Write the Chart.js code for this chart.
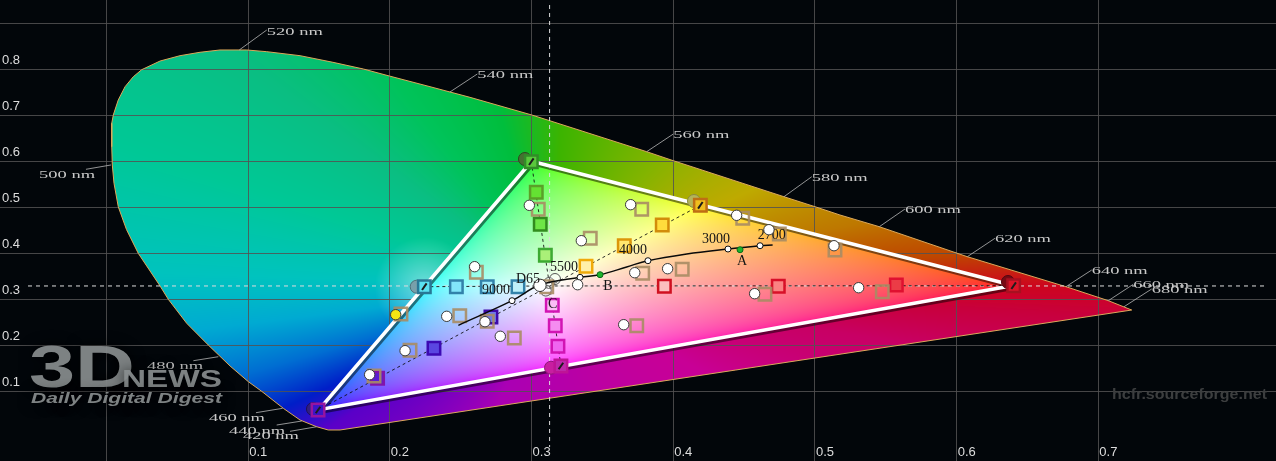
<!DOCTYPE html>
<html>
<head>
<meta charset="utf-8">
<title>CIE diagram</title>
<style>
  html, body { margin: 0; padding: 0; background: #02060a; }
  #wrap { width: 1276px; height: 461px; }
  canvas { display: block; }
</style>
<script src="https://cdn.jsdelivr.net/npm/chart.js@4"></script>
</head>
<body>
<div id="wrap"><canvas id="cie" width="1276" height="461"></canvas></div>
<script>
/* ── Axis ticks ── */
const xTickValues = [0, 0.1, 0.2, 0.3, 0.4, 0.5, 0.6, 0.7];
const xTickLabels = ['', '0.1', '0.2', '0.3', '0.4', '0.5', '0.6', '0.7'];
const yTickValues = [0.1, 0.2, 0.3, 0.4, 0.5, 0.6, 0.7, 0.8, 0.9];
const yTickLabels = ['0.1', '0.2', '0.3', '0.4', '0.5', '0.6', '0.7', '0.8', ''];

/* ── Spectral locus ── */
const locus = [
  [0.7235,0.2767],[0.7070,0.2970],[0.6771,0.3274],[0.6075,0.3926],[0.5454,0.4578],[0.5176,0.4833],
  [0.5000,0.5013],[0.4781,0.5230],[0.4000,0.6013],[0.3812,0.6209],[0.3001,0.7007],[0.2565,0.7391],
  [0.2283,0.7622],[0.1996,0.7854],[0.1812,0.8007],[0.1598,0.8152],[0.1366,0.8296],[0.1131,0.8383],
  [0.0989,0.8420],[0.0801,0.8420],[0.0660,0.8370],[0.0519,0.8296],[0.0378,0.8180],[0.0248,0.7991],
  [0.0189,0.7839],[0.0131,0.7622],[0.0083,0.7333],[0.0048,0.7007],[0.0037,0.6826],[0.0037,0.6317],
  [0.0041,0.5920],[0.0053,0.5522],[0.0083,0.5013],[0.0141,0.4517],[0.0224,0.4000],[0.0378,0.3289],
  [0.0436,0.3000],[0.0566,0.2478],[0.0718,0.2007],[0.0872,0.1550],[0.1001,0.1209],[0.1095,0.1000],
  [0.1248,0.0630],[0.1366,0.0376],[0.1483,0.0230],[0.1565,0.0159],[0.1648,0.0159]
];

/* wavelength labels: text, locus point, leader end, text anchor */
const nmLabels = ['520 nm','540 nm','560 nm','580 nm','600 nm','620 nm','640 nm','660 nm','680 nm','500 nm','480 nm','460 nm','440 nm','420 nm'];
const nmStarts = [[0.0937,0.8420],[0.2424,0.7507],[0.3812,0.6209],[0.4781,0.5230],[0.5454,0.4578],[0.6075,0.3926],[0.6771,0.3274],[0.7070,0.2970],[0.7181,0.2839],[0.0032,0.5920],[0.0789,0.1752],[0.1243,0.0630],[0.1378,0.0354],[0.1483,0.0230]];
const nmEnds = [[0.1131,0.8854],[0.2617,0.7898],[0.4000,0.6593],[0.4977,0.5665],[0.5635,0.4963],[0.6270,0.4326],[0.6953,0.3637],[0.7246,0.3326],[0.7376,0.3224],[-0.0145,0.5826],[0.0613,0.1665],[0.1055,0.0535],[0.1201,0.0267],[0.1295,0.0130]];
const nmAnchors = [[0.1131,0.8811],[0.2617,0.7883],[0.4000,0.6578],[0.4977,0.5637],[0.5635,0.4941],[0.6270,0.4311],[0.6953,0.3622],[0.7246,0.3311],[0.7376,0.3202],[-0.0476,0.5702],[0.0286,0.1550],[0.0723,0.0420],[0.0865,0.0143],[0.0963,0.0022]];

/* ── Gamut and white point ── */
const gamut = [[0.64,0.33],[0.30,0.60],[0.15,0.06]];
const whitePoint = [0.3127,0.329];
const crossH = [[-0.0554,0.329],[0.8197,0.329]];
const crossV = [[0.3127,0.9398],[0.3127,-0.0211]];

/* ── Saturation targets, primary first ── */
const redTargets = [[0.6402,0.3296],[0.5574,0.3311],[0.4741,0.3283],[0.3937,0.3283]];
const greenTargets = [[0.2998,0.5991],[0.3033,0.5326],[0.3061,0.4630],[0.3097,0.3957]];
const blueTargets = [[0.1493,0.0593],[0.1913,0.1283],[0.2311,0.1935],[0.2713,0.2615]];
const yellowTargets = [[0.4191,0.5043],[0.3922,0.4615],[0.3654,0.4165],[0.3384,0.3717]];
const cyanTargets = [[0.2243,0.3274],[0.2469,0.3274],[0.2687,0.3274],[0.2904,0.3274]];
const magentaTargets = [[0.3207,0.1550],[0.3186,0.1978],[0.3167,0.2426],[0.3146,0.2870]];

/* ── Measurements ── */
const tanSquares = [
  [0.2610,0.3587],[0.2493,0.2643],[0.2687,0.2522],[0.2878,0.2159],[0.2142,0.1891],[0.1888,0.1333],[0.2078,0.2680],
  [0.3047,0.4957],[0.3414,0.4326],[0.3107,0.3274],[0.3777,0.4957],[0.4490,0.4761],[0.4748,0.4420],[0.5141,0.4072],
  [0.3784,0.3565],[0.4063,0.3652],[0.4647,0.3109],[0.3742,0.2426],[0.5475,0.3165]
];
const whiteDots = [
  [0.2984,0.5043],[0.3351,0.4274],[0.2598,0.3709],[0.2401,0.2630],[0.2671,0.2513],[0.2779,0.2196],[0.2107,0.1883],
  [0.1857,0.1361],[0.3325,0.3317],[0.3699,0.5057],[0.4447,0.4826],[0.4675,0.4513],[0.5134,0.4165],[0.3728,0.3578],
  [0.3960,0.3665],[0.4574,0.3122],[0.3650,0.2448],[0.5308,0.3252]
];
const centerDot = [[0.3059,0.3304]];
const yellowDot = [[0.2041,0.2665]];
const greyRings = [[0.3123,0.3354],[0.3165,0.3441],[0.3100,0.3190]];
const primaryDots = [[0.2953,0.6050],[0.4146,0.5137],[0.6362,0.3376],[0.3137,0.1513],[0.2189,0.3274],[0.1457,0.0615]];

/* ── Black body curve ── */
const planck = [[0.2483,0.2435],[0.2862,0.2970],[0.3059,0.3311],[0.3342,0.3478],[0.3483,0.3535],[0.3671,0.3702],[0.3821,0.3839],[0.4095,0.3985],[0.4386,0.4093],[0.4612,0.4165],[0.4701,0.4180]];
const cctMarks = [[0.2862,0.2970],[0.3342,0.3478],[0.3821,0.3839],[0.4386,0.4093],[0.4612,0.4165]];
const illuminants = [[0.3483,0.3535],[0.4471,0.4078]];
const curveLabels = ['3000','2700','4000','5500','D65','9000','A','B','C'];
const curveLabelPos = [[0.4301,0.4311],[0.4694,0.4398],[0.3716,0.4057],[0.3229,0.3687],[0.2975,0.3441],[0.2749,0.3196],[0.4485,0.3817],[0.3539,0.3274],[0.3149,0.2891]];

const pts = list => list.map(p => ({ x: p[0], y: p[1] }));

// line pieces separated by a gap
function segments(pairs) {
  const out = [];
  pairs.forEach(([a, b]) => out.push({ x: a[0], y: a[1] }, { x: b[0], y: b[1] }, { x: NaN, y: NaN }));
  return out;
}

function lineSet(label, data, color, width, extra) {
  return Object.assign({ label, data, showLine: true, pointRadius: 0, borderColor: color, borderWidth: width, fill: false }, extra);
}

function squareSet(label, list, fills, borders) {
  return { label, data: pts(list), showLine: false, pointStyle: 'rect', pointRadius: 8.8, pointBorderWidth: 2.5, pointBackgroundColor: fills, pointBorderColor: borders };
}

function dotSet(label, list, radius, fill, border) {
  return { label, data: pts(list), showLine: false, pointStyle: 'circle', pointRadius: radius, pointBorderWidth: 1, pointBackgroundColor: fill, pointBorderColor: border };
}

/* ── Colour of the horseshoe ── */
// outside the gamut: colour by direction from the white point, as seen in the picture
const rimStops = [
  [-3,200,0,60],[0,205,5,30],[4.4,190,70,0],[11.5,190,120,0],[25.6,190,170,0],[50,130,180,0],[86,60,180,0],[106,0,190,60],
  [127,0,195,90],[144,10,190,130],[162,0,200,150],[178,0,195,190],[187,0,170,210],[196,0,110,210],[204.5,0,30,200],
  [212.5,90,0,200],[246,170,0,180],[330.8,200,0,150],[351,200,0,100],[357,200,0,60]
];

function rimColor(deg) {
  if (deg > 357) deg -= 360;
  for (let i = 1; i < rimStops.length; i++) {
    const a = rimStops[i - 1], b = rimStops[i];
    if (deg <= b[0]) {
      const t = (deg - a[0]) / (b[0] - a[0]);
      return [a[1] + (b[1] - a[1]) * t, a[2] + (b[2] - a[2]) * t, a[3] + (b[3] - a[3]) * t];
    }
  }
  return [200, 0, 60];
}

function makeRim(chart) {
  const { x: sx, y: sy } = chart.scales;
  const w = chart.width, h = chart.height;
  const off = document.createElement('canvas');
  off.width = w; off.height = h;
  const octx = off.getContext('2d');
  const img = octx.createImageData(w, h);
  const d = img.data;
  const wx = sx.getPixelForValue(whitePoint[0]), wy = sy.getPixelForValue(whitePoint[1]);
  const gx = sx.getPixelForValue(cyanTargets[0][0]), gy = sy.getPixelForValue(cyanTargets[0][1]);
  for (let py = 0; py < h; py++) {
    for (let px = 0; px < w; px++) {
      let deg = Math.atan2(wy - py, px - wx) * 180 / Math.PI;
      if (deg < -3) deg += 360;
      const c = rimColor(deg);
      // soft light spot just outside the cyan corner
      const t = Math.max(0, 1 - Math.hypot(px - gx, py - gy) / 50) * 0.45;
      const i = (py * w + px) * 4;
      d[i] = c[0] + (255 - c[0]) * t; d[i + 1] = c[1] + (255 - c[1]) * t; d[i + 2] = c[2] + (255 - c[2]) * t; d[i + 3] = 255;
    }
  }
  octx.putImageData(img, 0, 0);
  return off;
}

// inside the gamut: real sRGB, brightest channel at full
function makeInner(chart) {
  const { x: sx, y: sy } = chart.scales;
  const w = chart.width, h = chart.height;
  const off = document.createElement('canvas');
  off.width = w; off.height = h;
  const octx = off.getContext('2d');
  const img = octx.createImageData(w, h);
  const d = img.data;
  for (let py = 0; py < h; py++) {
    const y = sy.getValueForPixel(py + 0.5);
    if (y <= 0.001) continue;
    for (let px = 0; px < w; px++) {
      const x = sx.getValueForPixel(px + 0.5);
      const X = x / y, Z = (1 - x - y) / y;
      let r = Math.max(3.2406 * X - 1.5372 - 0.4986 * Z, 0);
      let g = Math.max(-0.9689 * X + 1.8758 + 0.0415 * Z, 0);
      let b = Math.max(0.0557 * X - 0.2040 + 1.0570 * Z, 0);
      const m = Math.max(r, g, b, 1e-6);
      const i = (py * w + px) * 4;
      d[i] = 255 * Math.pow(r / m, 1 / 2.6);
      d[i + 1] = 255 * Math.pow(g / m, 1 / 2.6);
      d[i + 2] = 255 * Math.pow(b / m, 1 / 2.6);
      d[i + 3] = 255;
    }
  }
  octx.putImageData(img, 0, 0);
  return off;
}

function tracePoly(chart, list) {
  const { x: sx, y: sy } = chart.scales;
  const ctx = chart.ctx;
  ctx.beginPath();
  list.forEach((p, i) => {
    const px = sx.getPixelForValue(p[0]), py = sy.getPixelForValue(p[1]);
    if (i === 0) ctx.moveTo(px, py); else ctx.lineTo(px, py);
  });
  ctx.closePath();
}

// text squeezed or stretched to a set width
function fitText(ctx, text, x, y, width, font, color) {
  ctx.save();
  ctx.font = font;
  ctx.fillStyle = color;
  const w = ctx.measureText(text).width;
  ctx.translate(x, y);
  ctx.scale(width / w, 1);
  ctx.fillText(text, 0, 0);
  ctx.restore();
}

const ciePlugin = {
  id: 'cie',
  beforeDraw(chart) {
    const ctx = chart.ctx;
    ctx.save();
    ctx.fillStyle = '#02060a';
    ctx.fillRect(0, 0, chart.width, chart.height);
    tracePoly(chart, locus);
    ctx.clip();
    ctx.drawImage(makeRim(chart), 0, 0);
    ctx.restore();
  },
  beforeDatasetsDraw(chart) {
    // inside of the gamut hides the grid
    const ctx = chart.ctx;
    ctx.save();
    tracePoly(chart, gamut);
    ctx.clip();
    ctx.drawImage(makeInner(chart), 0, 0);
    ctx.restore();
  },
  beforeDatasetDraw(chart, args) {
    const ctx = chart.ctx;
    const label = chart.data.datasets[args.index].label;
    if (label === 'gamut') {
      ctx.save();
      ctx.shadowColor = 'rgba(0,0,0,0.5)';
      ctx.shadowOffsetX = 1.5;
      ctx.shadowOffsetY = 2.5;
    }
    if (label === 'measured') {
      const { x: sx, y: sy } = chart.scales;
      ctx.save();
      ctx.fillStyle = '#151515';
      ctx.font = '14px "Liberation Serif"';
      ctx.textAlign = 'center';
      ctx.textBaseline = 'middle';
      curveLabels.forEach((t, i) => {
        ctx.fillText(t, sx.getPixelForValue(curveLabelPos[i][0]), sy.getPixelForValue(curveLabelPos[i][1]));
      });
      ctx.restore();
    }
  },
  afterDatasetDraw(chart, args) {
    if (chart.data.datasets[args.index].label === 'gamut') chart.ctx.restore();
  },
  afterDraw(chart) {
    const ctx = chart.ctx;
    const { x: sx, y: sy } = chart.scales;
    ctx.save();
    ctx.textBaseline = 'middle';
    nmLabels.forEach((t, i) => {
      fitText(ctx, t, sx.getPixelForValue(nmAnchors[i][0]), sy.getPixelForValue(nmAnchors[i][1]), 56, '11px "Liberation Serif"', '#c9c9c9');
    });
    ctx.textBaseline = 'alphabetic';
    // watermarks
    ctx.shadowColor = '#000';
    ctx.shadowBlur = 14;
    ctx.globalAlpha = 0.9;
    fitText(ctx, '3D', 29, 387, 106, 'bold 60px "Liberation Sans"', '#8b9091');
    fitText(ctx, 'NEWS', 122, 387, 100, 'bold 23px "Liberation Sans"', '#8b9091');
    fitText(ctx, 'Daily Digital Digest', 31, 403, 191, 'italic bold 14px "Liberation Sans"', '#8b9091');
    ctx.shadowBlur = 0;
    ctx.globalAlpha = 1;
    fitText(ctx, 'hcfr.sourceforge.net', 1112, 399, 155, 'bold 15px "Liberation Sans"', '#3c3e3f');
    ctx.restore();
  }
};

const spokes = [redTargets, greenTargets, blueTargets, yellowTargets, cyanTargets, magentaTargets].map(s => [s[0], whitePoint]);
const leaders = nmStarts.map((s, i) => [s, nmEnds[i]]);

// first dataset ends up on top
const datasets = [
  dotSet('measured', whiteDots, 5.2, '#ffffff', '#3a3a3a'),
  dotSet('center', centerDot, 6.2, '#ffffff', '#333333'),
  dotSet('yellow', yellowDot, 5.2, '#f4e614', '#3a3a3a'),
  { label: 'cct', data: pts(cctMarks), showLine: false, pointRadius: 3, pointBorderWidth: 1, pointBackgroundColor: '#fff', pointBorderColor: '#111' },
  { label: 'illuminants', data: pts(illuminants), showLine: false, pointRadius: 3, pointBorderWidth: 1, pointBackgroundColor: '#1bb52e', pointBorderColor: '#0c6a18' },
  lineSet('planck', pts(planck), '#0a0a0a', 1.4, { tension: 0.4 }),
  { label: 'tan', data: pts(tanSquares), showLine: false, pointStyle: 'rect', pointRadius: 8.8, pointBorderWidth: 2.5, pointBackgroundColor: 'rgba(0,0,0,0)', pointBorderColor: 'rgba(168,140,100,0.9)' },
  { label: 'glyphs', data: pts([redTargets[0], greenTargets[0], blueTargets[0], yellowTargets[0], cyanTargets[0], magentaTargets[0]]), showLine: false, pointStyle: 'line', pointRadius: 4, pointRotation: 125, pointBorderWidth: 2, pointBorderColor: '#1c1c1c' },
  squareSet('red', redTargets, ['#dc1428', '#eb3c46', '#fa8282', '#fcbebe'], ['#a81020', '#e01030', '#d81028', '#d01020']),
  squareSet('green', greenTargets, ['#5ac83c', '#64e132', '#6ee646', '#aaf078'], ['#328c28', '#5aa028', '#328c1e', '#3caa32']),
  squareSet('blue', blueTargets, ['#3c14c8', '#5a1ed2', '#5a46e1', '#6e78eb'], ['#9614a0', '#8214aa', '#3c0ab4', '#3c0aaa']),
  squareSet('yellow', yellowTargets, ['#f0be1e', '#ffdc3c', '#ffe66e', '#fff0aa'], ['#be6e14', '#d28c0a', '#dc960a', '#f0aa0a']),
  squareSet('cyan', cyanTargets, ['#5ae1f0', '#82e6fa', '#a0ebfa', '#bef0fa'], ['#287896', '#3282aa', '#3282aa', '#3282aa']),
  squareSet('magenta', magentaTargets, ['#be28aa', '#f064f0', '#f58cf0', '#fabef5'], ['#be1496', '#d214b4', '#d214b4', '#d214b4']),
  dotSet('rings', greyRings, 5.5, 'rgba(255,255,255,0.25)', '#555555'),
  dotSet('primaries', primaryDots, 6.5,
    ['#467032', '#b4b45a', '#780a14', '#c81ea0', '#78a0aa', '#321e82'],
    ['#2c4a20', '#8a8a40', '#500810', '#901478', '#507078', '#1e1058']),
  lineSet('gamut', pts(gamut.concat([gamut[0]])), '#ffffff', 3.6, { borderJoinStyle: 'miter' }),
  lineSet('spokes', segments(spokes), 'rgba(10,10,10,0.85)', 1, { borderDash: [3, 3], spanGaps: false }),
  lineSet('crossH', pts(crossH), '#dcdcdc', 1, { borderDash: [4, 4] }),
  lineSet('crossV', pts(crossV), '#dcdcdc', 1, { borderDash: [4, 4] }),
  lineSet('leaders', segments(leaders), '#b8b8b8', 0.8, { spanGaps: false }),
  lineSet('locus', pts(locus.concat([locus[0]])), '#dca85a', 1)
];

Chart.defaults.font.family = '"Liberation Sans", sans-serif';

const noPad = s => { s.paddingLeft = 0; s.paddingRight = 0; s.paddingTop = 0; s.paddingBottom = 0; };

new Chart(document.getElementById('cie'), {
  type: 'scatter',
  data: { datasets },
  plugins: [ciePlugin],
  options: {
    responsive: false,
    animation: false,
    devicePixelRatio: 1,
    layout: { padding: 0, autoPadding: false },
    plugins: { legend: { display: false }, tooltip: { enabled: false } },
    scales: {
      x: {
        type: 'linear',
        min: -0.07516,
        max: 0.82534,
        afterFit: s => { s.height = 0; noPad(s); },
        afterBuildTicks: s => { s.ticks = xTickValues.map(v => ({ value: v })); },
        border: { display: false },
        grid: { color: 'rgba(82,82,82,0.85)', lineWidth: 1, drawTicks: false },
        ticks: {
          color: '#dddddd',
          font: { size: 13 },
          // mirror stops the label clip on a zero height axis
          mirror: true,
          padding: 1,
          labelOffset: 10,
          maxRotation: 0,
          autoSkip: false,
          callback: (v, i) => xTickLabels[i]
        }
      },
      y: {
        type: 'linear',
        min: -0.05152,
        max: 0.95065,
        afterFit: s => { s.width = 0; noPad(s); },
        afterBuildTicks: s => { s.ticks = yTickValues.map(v => ({ value: v })); },
        border: { display: false },
        grid: { color: 'rgba(82,82,82,0.85)', lineWidth: 1, drawTicks: false },
        ticks: {
          color: '#dddddd',
          font: { size: 13 },
          mirror: true,
          padding: 2,
          labelOffset: -9,
          autoSkip: false,
          callback: (v, i) => yTickLabels[i]
        }
      }
    }
  }
});
</script>
</body>
</html>
